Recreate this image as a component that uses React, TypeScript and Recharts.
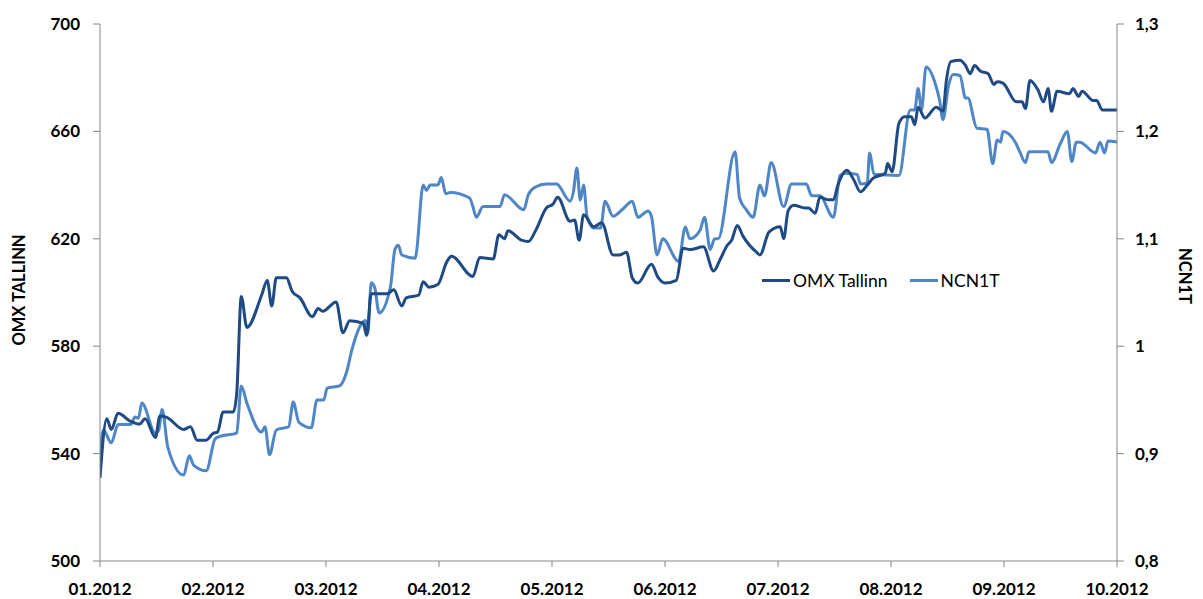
import React from "react";
import {
  LineChart,
  Line,
  XAxis,
  YAxis,
  Legend,
} from "recharts";

// x positions are in months from 01.2012 (0) to 10.2012 (9)
const monthLabels = [
  "01.2012", "02.2012", "03.2012", "04.2012", "05.2012",
  "06.2012", "07.2012", "08.2012", "09.2012", "10.2012",
];

const omxTime = [
  0, 0.06, 0.1, 0.16, 0.27, 0.35, 0.4, 0.49, 0.53, 0.59, 0.74, 0.8, 0.86, 0.94,
  1, 1.04, 1.09, 1.18, 1.21, 1.25, 1.3, 1.43, 1.48, 1.52, 1.56, 1.65, 1.7, 1.77,
  1.88, 1.93, 1.97, 2.09, 2.15, 2.21, 2.33, 2.36, 2.4, 2.54, 2.6, 2.67, 2.71,
  2.82, 2.86, 2.91, 2.99, 3.07, 3.11, 3.3, 3.36, 3.48, 3.53, 3.58, 3.61, 3.73,
  3.79, 3.86, 3.95, 4.01, 4.05, 4.16, 4.2, 4.24, 4.28, 4.37, 4.44, 4.54, 4.6,
  4.66, 4.71, 4.76, 4.88, 4.94, 5, 5.1, 5.16, 5.22, 5.34, 5.43, 5.49, 5.55,
  5.59, 5.64, 5.69, 5.81, 5.84, 5.92, 6.02, 6.05, 6.09, 6.14, 6.24, 6.27, 6.33,
  6.37, 6.45, 6.49, 6.53, 6.61, 6.67, 6.73, 6.79, 6.84, 6.95, 6.97, 7.01, 7.07,
  7.12, 7.18, 7.21, 7.24, 7.3, 7.4, 7.46, 7.49, 7.53, 7.61, 7.66, 7.7, 7.74,
  7.79, 7.86, 7.91, 7.94, 7.99, 8.11, 8.16, 8.19, 8.23, 8.3, 8.35, 8.39, 8.42,
  8.47, 8.58, 8.61, 8.66, 8.69, 8.79, 8.82, 8.87, 9,
];

const omxValues = [
  531, 553, 549, 555, 552, 551, 553, 546, 554, 553.5, 549, 550, 545, 545,
  547.5, 548, 555.5, 555.5, 562.5, 598.5, 587, 599, 604.5, 595, 605.5, 605.5, 600.5, 598,
  591, 594, 593, 596.5, 585, 589.5, 588.5, 584, 599.5, 599.5, 601, 595, 598,
  599, 604, 602, 603, 611.5, 613.5, 606, 613, 612.5, 621.5, 620, 623, 619.5,
  619, 623.5, 631.5, 633, 635.5, 626.5, 627, 619.5, 629, 624.5, 626, 614, 614,
  615, 605.5, 603.5, 610.5, 605.5, 603.5, 604.5, 616.5, 616, 617, 608, 612.5, 617.5,
  619.5, 625, 621, 615, 614, 622.5, 624.5, 620, 630.5, 632.5, 631.5, 631.5, 629.5,
  635.5, 634.5, 634.5, 640, 645.5, 642, 637.5, 640, 642.5, 644.5, 648, 645, 663,
  665.5, 665.5, 662.5, 669, 665, 669, 667.5, 679, 686, 686.5, 684.5, 681.5, 684.5,
  682.5, 681.5, 677.5, 678.5, 678, 671, 671, 668.5, 679, 675.5, 671, 676, 667.5,
  675, 674, 676, 673, 675, 671.5, 671.5, 668, 668,
];

const ncnTime = [
  0, 0.03, 0.1, 0.16, 0.27, 0.31, 0.34, 0.37, 0.49, 0.52, 0.55, 0.6, 0.74, 0.79,
  0.83, 0.94, 1.02, 1.06, 1.21, 1.25, 1.3, 1.43, 1.46, 1.5, 1.56, 1.67, 1.71,
  1.76, 1.87, 1.92, 1.98, 2.01, 2.12, 2.18, 2.23, 2.35, 2.37, 2.4, 2.43, 2.47,
  2.57, 2.61, 2.64, 2.67, 2.79, 2.8, 2.86, 2.89, 2.92, 2.99, 3.02, 3.06, 3.1,
  3.27, 3.3, 3.33, 3.39, 3.54, 3.58, 3.75, 3.79, 3.85, 3.95, 4.04, 4.16, 4.19,
  4.22, 4.25, 4.28, 4.31, 4.37, 4.43, 4.47, 4.54, 4.63, 4.71, 4.76, 4.85, 4.88,
  4.93, 4.98, 5.12, 5.18, 5.22, 5.31, 5.35, 5.4, 5.44, 5.47, 5.62, 5.66, 5.72,
  5.78, 5.84, 5.88, 5.94, 6.05, 6.12, 6.25, 6.3, 6.37, 6.49, 6.55, 6.59, 6.7,
  6.73, 6.79, 6.81, 6.85, 7.07, 7.17, 7.21, 7.24, 7.27, 7.31, 7.39, 7.43, 7.46,
  7.51, 7.55, 7.61, 7.66, 7.68, 7.76, 7.85, 7.9, 7.94, 7.97, 7.99, 8.1, 8.14,
  8.19, 8.22, 8.39, 8.42, 8.5, 8.56, 8.6, 8.64, 8.67, 8.81, 8.85, 8.89, 8.92, 9,
];

const ncnValues = [
  0.9, 0.922, 0.91, 0.927, 0.927, 0.934, 0.933, 0.947, 0.919, 0.922, 0.941, 0.906, 0.88, 0.898,
  0.889, 0.884, 0.914, 0.916, 0.919, 0.963, 0.947, 0.92, 0.925, 0.899, 0.922, 0.925, 0.948,
  0.929, 0.924, 0.95, 0.95, 0.961, 0.963, 0.975, 0.997, 1.024, 1.012, 1.059, 1.055, 1.031,
  1.055, 1.09, 1.094, 1.085, 1.082, 1.087, 1.15, 1.145, 1.15, 1.15, 1.157, 1.142, 1.143,
  1.138, 1.13, 1.12, 1.13, 1.13, 1.141, 1.127, 1.141, 1.148, 1.151, 1.151, 1.135, 1.144,
  1.166, 1.136, 1.15, 1.121, 1.11, 1.11, 1.135, 1.121, 1.128, 1.135, 1.12, 1.126, 1.121,
  1.085, 1.1, 1.079, 1.111, 1.1, 1.108, 1.12, 1.09, 1.1, 1.1, 1.181, 1.138, 1.127,
  1.12, 1.15, 1.14, 1.171, 1.13, 1.151, 1.151, 1.14, 1.14, 1.12, 1.159, 1.161, 1.16,
  1.151, 1.152, 1.18, 1.16, 1.159, 1.22, 1.22, 1.24, 1.22, 1.26, 1.245, 1.229, 1.211,
  1.243, 1.253, 1.252, 1.231, 1.231, 1.203, 1.202, 1.17, 1.192, 1.19, 1.2, 1.19, 1.181,
  1.171, 1.181, 1.181, 1.171, 1.189, 1.2, 1.172, 1.19, 1.19, 1.18, 1.19, 1.18, 1.191, 1.19,
];

const leftTicks = [500, 540, 580, 620, 660, 700];
const rightTicks = [0.8, 0.9, 1, 1.1, 1.2, 1.3];
const monthTicks = monthLabels.map((_, i) => i);

const omxData = omxTime.map((t, i) => ({ t, omx: omxValues[i] }));
const ncnData = ncnTime.map((t, i) => ({ t, ncn: ncnValues[i] }));

const FONT = "Lato, 'Liberation Sans', sans-serif";
const DARK = "#1F4A84";
const LIGHT = "#4F86C6";

const tickStyle = { fontFamily: FONT, fontWeight: 700, fontSize: 17, fill: "#000" };
const titleStyle = { fontFamily: FONT, fontWeight: 700, fontSize: 16.5, fill: "#000" };

const LegendBox = () => (
  <div style={{ display: "flex", alignItems: "center", fontFamily: FONT, fontSize: 17.5, color: "#000" }}>
    <span style={{ display: "inline-block", width: 28, height: 3, background: DARK, marginRight: 3 }} />
    <span>OMX Tallinn</span>
    <span style={{ display: "inline-block", width: 28, height: 3, background: LIGHT, marginLeft: 22, marginRight: 3 }} />
    <span>NCN1T</span>
  </div>
);

const App: React.FC = () => {
  return (
    <div style={{ width: 1187, height: 590 }}>
      <LineChart
        width={1187}
        height={590}
        margin={{ top: 16, right: 0, left: 0, bottom: 0 }}
      >
        <XAxis
          dataKey="t"
          type="number"
          domain={[0, 9]}
          ticks={monthTicks}
          tickFormatter={(v: number) => monthLabels[v] ?? ""}
          height={37}
          tick={tickStyle}
          tickSize={6}
          tickMargin={16}
          stroke="#868686"
          allowDataOverflow
        />
        <YAxis
          yAxisId="left"
          domain={[500, 700]}
          ticks={leftTicks}
          width={92}
          tick={tickStyle}
          tickSize={7}
          tickMargin={13}
          stroke="#868686"
          label={{
            content: () => (
              <text
                x={17}
                y={282}
                transform="rotate(-90 17 282)"
                textAnchor="middle"
                style={titleStyle}
              >
                OMX TALLINN
              </text>
            ),
          }}
        />
        <YAxis
          yAxisId="right"
          orientation="right"
          domain={[0.8, 1.3]}
          ticks={rightTicks}
          width={78}
          tick={tickStyle}
          tickSize={7}
          tickMargin={11}
          stroke="#868686"
          tickFormatter={(v: number) => String(v).replace(".", ",")}
          label={{
            content: () => (
              <text
                x={1171}
                y={268}
                transform="rotate(90 1171 268)"
                textAnchor="middle"
                style={titleStyle}
              >
                NCN1T
              </text>
            ),
          }}
        />
        <Legend
          verticalAlign="middle"
          content={() => <LegendBox />}
          wrapperStyle={{ position: "absolute", left: 754, top: 262, width: "auto" }}
        />
        <Line
          yAxisId="right"
          data={ncnData}
          dataKey="ncn"
          name="NCN1T"
          type="monotone"
          stroke={LIGHT}
          strokeWidth={3}
          dot={false}
          isAnimationActive={false}
        />
        <Line
          yAxisId="left"
          data={omxData}
          dataKey="omx"
          name="OMX Tallinn"
          type="monotone"
          stroke={DARK}
          strokeWidth={3}
          dot={false}
          isAnimationActive={false}
        />
      </LineChart>
    </div>
  );
};

export default App;
